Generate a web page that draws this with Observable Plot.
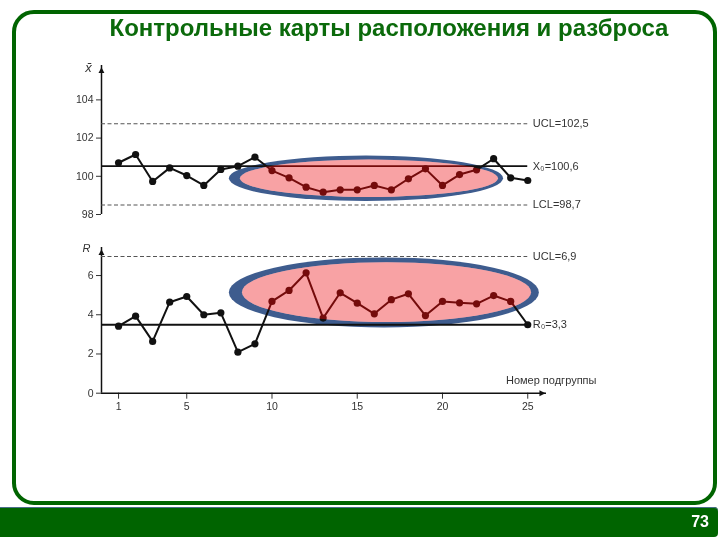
<!DOCTYPE html>
<html>
<head>
<meta charset="utf-8">
<script src="https://cdn.jsdelivr.net/npm/d3@7"></script>
<script src="https://cdn.jsdelivr.net/npm/@observablehq/plot@0.6"></script>
<style>
  body { margin:0; width:720px; height:540px; position:relative; background:#fff; overflow:hidden;
         font-family:"Liberation Sans", Arial, sans-serif; }
  #frame { position:absolute; left:12px; top:10px; width:697px; height:487px;
           border:4px solid #006400; border-radius:22px; }
  #footer { position:absolute; left:0; top:507px; width:718px; height:30px; background:#006400;
            border-radius:0 4px 4px 0; box-shadow: inset 0 1px 0 #4a6f8a; }
  #page { position:absolute; right:9px; top:6px; color:#fff; font-weight:bold; font-size:16px;
          font-family:"Liberation Sans", Arial, sans-serif; }
  #title { position:absolute; left:0; top:14px; width:778px; text-align:center; color:#0b6a0b;
           font-weight:bold; font-size:24px; }
  #top, #bot { position:absolute; left:0; }
  #top { top:0; }
  #bot { top:230px; }
</style>
</head>
<body>
<div id="frame"></div>
<div id="top"></div>
<div id="bot"></div>
<div id="title">Контрольные карты расположения и разброса</div>
<div id="footer"><span id="page">73</span></div>
<script>
// ---- data ----
const subgroup = [1,2,3,4,5,6,7,8,9,10,11,12,13,14,15,16,17,18,19,20,21,22,23,24,25];
const xbar = [100.71,101.14,99.73,100.44,100.04,99.52,100.36,100.53,101.0,100.30,99.92,99.43,99.17,
              99.29,99.29,99.52,99.29,99.87,100.39,99.52,100.09,100.34,100.92,99.92,99.78];
const rng  = [3.42,3.93,2.64,4.64,4.93,4.00,4.10,2.09,2.52,4.68,5.24,6.14,3.83,5.12,4.59,4.05,4.77,
              5.07,3.96,4.68,4.61,4.56,4.98,4.68,3.49];

const xbarLimitLevels = [102.75, 98.5];          // dashed UCL / LCL as drawn
const xbarLimitLabels = ["UCL=102,5", "LCL=98,7"];
const xbarCenter = [100.53];
const xbarCenterLabel = ["X₀=100,6"];
const rLimitLevels = [6.97];
const rLimitLabels = ["UCL=6,9"];
const rCenter = [3.49];
const rCenterLabel = ["R₀=3,3"];

const xTicks = [1,5,10,15,20,25];
const xbarTicks = [98,100,102,104];
const rTicks = [0,2,4,6];
const xTitle = "Номер подгруппы";

// highlighted ranges of subgroups (ellipse annotations)
const xbarOuter = [{x1:7.5, x2:23.58, y1:98.68, y2:101.06}];
const xbarInner = [{x1:8.15, x2:23.28, y1:98.89, y2:100.85}];
const rOuter = [{x1:7.5, x2:25.68, y1:3.33, y2:6.9}];
const rInner = [{x1:8.27, x2:25.22, y1:3.6, y2:6.65}];

const xbarData = subgroup.map((s,i)=>({s, v:xbar[i]}));
const rData = subgroup.map((s,i)=>({s, v:rng[i]}));

const BLUE = "#3e5c8e", PINK = "#f8a2a4", DARK = "#6e0000", INK = "#111";
const font = {fontFamily:"Liberation Sans, Arial, sans-serif", fontSize:"10.5px", color:"#333", background:"transparent"};

function ellipse(d, fill, extra={}) {
  return Plot.rect(d, {x1:"x1", x2:"x2", y1:"y1", y2:"y2", fill, rx:1000, ry:1000, ...extra});
}

const topChart = Plot.plot({
  width:720, height:230, marginLeft:101, marginRight:174, marginTop:65, marginBottom:16,
  x:{domain:[0,26.1], axis:null},
  y:{domain:[98,105.8], ticks:xbarTicks, tickSize:5, tickPadding:3, label:null, tickFormat:d=>String(d)},
  style:font,
  marks:[
    ellipse(xbarOuter, BLUE),
    ellipse(xbarInner, "white"),
    Plot.ruleX([0], {stroke:INK, strokeWidth:1.5}),
    Plot.text(["▲"], {x:0, y:105.8, text:d=>d, dy:4, fontSize:10, fill:INK}),
    Plot.text(["x̄"], {x:0, y:105.8, text:d=>d, dx:-13, dy:2, fontSize:13, fontStyle:"italic", fill:"#333"}),
    Plot.ruleY(xbarLimitLevels, {x1:0, x2:25, stroke:"#555", strokeWidth:1.1, strokeDasharray:"4,2.5"}),
    Plot.ruleY(xbarCenter, {x1:0, x2:25, stroke:INK, strokeWidth:1.9}),
    Plot.line(xbarData, {x:"s", y:"v", stroke:INK, strokeWidth:2}),
    Plot.dot(xbarData, {x:"s", y:"v", r:3.6, fill:INK}),
    ellipse(xbarInner, DARK, {mixBlendMode:"screen"}),
    ellipse(xbarInner, PINK, {mixBlendMode:"multiply"}),
    Plot.text(xbarLimitLevels, {x:25, y:d=>d, text:(d,i)=>xbarLimitLabels[i], dx:5, textAnchor:"start", fontSize:11, fill:"#333"}),
    Plot.text(xbarCenter, {x:25, y:d=>d, text:(d,i)=>xbarCenterLabel[i], dx:5, textAnchor:"start", fontSize:11, fill:"#333"})
  ]
});

const botChart = Plot.plot({
  width:720, height:200, marginLeft:101, marginRight:174, marginTop:17, marginBottom:37.3,
  x:{domain:[0,26.1], ticks:xTicks, tickSize:6, tickPadding:3, label:null, tickFormat:d=>String(d)},
  y:{domain:[0,7.43], ticks:rTicks, tickSize:5, tickPadding:3, label:null, tickFormat:d=>String(d)},
  style:font,
  marks:[
    ellipse(rOuter, BLUE),
    ellipse(rInner, "white"),
    Plot.ruleX([0], {stroke:INK, strokeWidth:1.5}),
    Plot.ruleY([0], {stroke:INK, strokeWidth:1.5}),
    Plot.text(["▲"], {x:0, y:7.43, text:d=>d, dy:4, fontSize:10, fill:INK}),
    Plot.text(["►"], {x:26.1, y:0, text:d=>d, dx:-4, fontSize:10, fill:INK}),
    Plot.text(["R"], {x:0, y:7.43, text:d=>d, dx:-15, dy:1, fontSize:11, fontStyle:"italic", fill:"#333"}),
    Plot.text([xTitle], {x:29.03, y:0.65, text:d=>d, textAnchor:"end", fontSize:11, fill:"#333"}),
    Plot.ruleY(rLimitLevels, {x1:0, x2:25, stroke:"#555", strokeWidth:1.1, strokeDasharray:"4,2.5"}),
    Plot.ruleY(rCenter, {x1:0, x2:25, stroke:INK, strokeWidth:1.9}),
    Plot.line(rData, {x:"s", y:"v", stroke:INK, strokeWidth:2}),
    Plot.dot(rData, {x:"s", y:"v", r:3.6, fill:INK}),
    ellipse(rInner, DARK, {mixBlendMode:"screen"}),
    ellipse(rInner, PINK, {mixBlendMode:"multiply"}),
    Plot.text(rLimitLevels, {x:25, y:d=>d, text:(d,i)=>rLimitLabels[i], dx:5, textAnchor:"start", fontSize:11, fill:"#333"}),
    Plot.text(rCenter, {x:25, y:d=>d, text:(d,i)=>rCenterLabel[i], dx:5, textAnchor:"start", fontSize:11, fill:"#333"})
  ]
});

document.getElementById("top").appendChild(topChart);
document.getElementById("bot").appendChild(botChart);
</script>
</body>
</html>
